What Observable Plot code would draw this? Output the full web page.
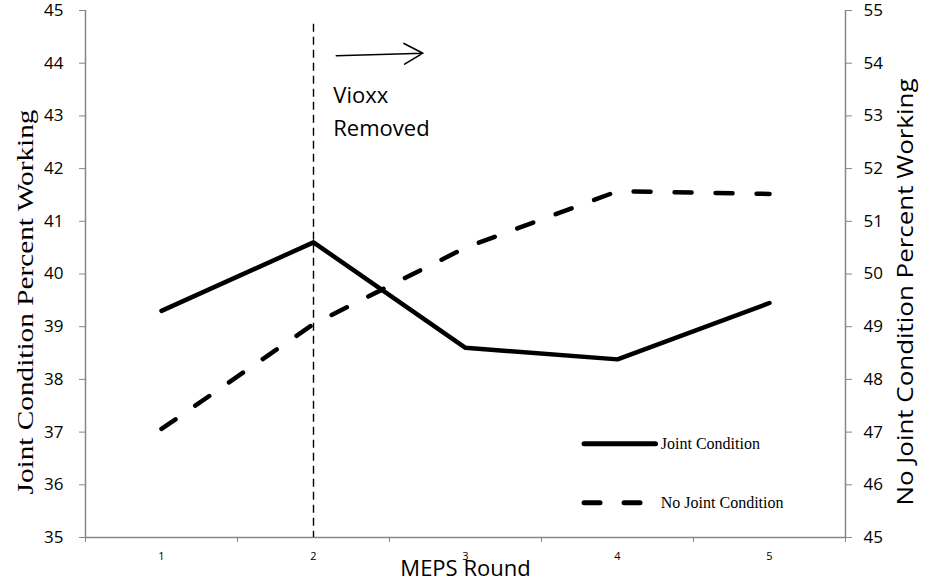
<!DOCTYPE html>
<html>
<head>
<meta charset="utf-8">
<script src="https://cdn.jsdelivr.net/npm/d3@7"></script>
<script src="https://cdn.jsdelivr.net/npm/@observablehq/plot@0.6"></script>
<style>
  html, body { margin: 0; padding: 0; background: #fff; }
  #chart { width: 926px; height: 584px; }
</style>
</head>
<body>
<div id="chart"></div>
<script>
// ---- data ----
const rounds = [1, 2, 3, 4, 5];
const jointCondition = [39.3, 40.6, 38.6, 38.38, 39.45];      // left axis
const noJointCondition = [47.06, 49.05, 50.5, 51.57, 51.52];  // right axis
const leftTicks = [35, 36, 37, 38, 39, 40, 41, 42, 43, 44, 45];
const rightTicks = [45, 46, 47, 48, 49, 50, 51, 52, 53, 54, 55];
const xTickLabels = ["1", "2", "3", "4", "5"];
const vioxxRound = 2;
const seriesNames = ["Joint Condition", "No Joint Condition"];
const leftTitle = "Joint Condition Percent Working";
const rightTitle = "No Joint Condition Percent Working";
const xTitle = "MEPS Round";
const annotation = "Vioxx\nRemoved";

// ---- derived ----
const offset = rightTicks[0] - leftTicks[0]; // right axis = left axis + 10
const joint = rounds.map((r, i) => ({round: r, v: jointCondition[i]}));
const noJoint = rounds.map((r, i) => ({round: r, v: noJointCondition[i] - offset}));
const bounds = d3.range(rounds[0] - 0.5, rounds[rounds.length - 1] + 1, 1);
const gray = "#868686";
const sans = "'Open Sans', sans-serif";
const serif = "'Liberation Serif', 'Times New Roman', serif";
const dashMain = "17,24";

// legend layout (in data units of the shared scales)
const legendX1 = 3.78, legendX2 = 4.25, legendTextX = 4.285;
const legendSolid = [{name: seriesNames[0], y: 36.78}];
const legendDashed = [{name: seriesNames[1], y: 35.66}];

const plot = Plot.plot({
  width: 926,
  height: 584,
  marginTop: 10,
  marginBottom: 47,
  marginLeft: 85,
  marginRight: 81,
  style: {fontFamily: sans, background: "#fff", overflow: "visible"},
  x: {type: "linear", domain: [bounds[0], bounds[bounds.length - 1]]},
  y: {type: "linear", domain: [leftTicks[0], leftTicks[leftTicks.length - 1]]},
  marks: [
    // axis lines
    Plot.ruleX([bounds[0], bounds[bounds.length - 1]], {stroke: gray, strokeWidth: 1.5}),
    Plot.ruleY([leftTicks[0]], {stroke: gray, strokeWidth: 1.5}),
    // left axis
    Plot.axisY({anchor: "left", ticks: leftTicks, tickSize: 6, tickPadding: 16,
      stroke: gray, fill: "black", fontSize: 17, label: null}),
    // right axis
    Plot.axisY({anchor: "right", ticks: leftTicks, tickSize: 6, tickPadding: 12,
      tickFormat: d => String(d + offset), stroke: gray, fill: "black", fontSize: 17, label: null}),
    // x axis: tick marks at category boundaries, labels at category centres
    Plot.axisX({ticks: bounds, tickSize: 5, tickFormat: () => "", stroke: gray, label: null}),
    Plot.axisX({ticks: rounds, tickSize: 0, tickPadding: 15, tickFormat: (d, i) => xTickLabels[i],
      fill: "black", fontSize: 11, fontFamily: sans, label: null}),
    // Vioxx line
    Plot.ruleX([vioxxRound], {y1: 44.74, y2: leftTicks[0], stroke: "black", strokeWidth: 1.4, strokeDasharray: "8,5"}),
    // series
    Plot.line(noJoint, {x: "round", y: "v", stroke: "black", strokeWidth: 4.5,
      strokeDasharray: dashMain, strokeLinecap: "round"}),
    Plot.line(joint, {x: "round", y: "v", stroke: "black", strokeWidth: 4.5, strokeLinecap: "round"}),
    // annotation
    Plot.arrow([0], {x1: vioxxRound + 0.15, y1: 44.14, x2: vioxxRound + 0.72, y2: 44.19,
      stroke: "black", strokeWidth: 1.6, headLength: 20, headAngle: 58, bend: 0}),
    Plot.text([annotation], {x: vioxxRound + 0.13, y: 43.14, textAnchor: "start", lineAnchor: "middle",
      lineHeight: 1.5, fontSize: 22, fontFamily: sans, fill: "black"}),
    // legend
    Plot.link(legendSolid, {x1: legendX1, x2: legendX2, y1: "y", y2: "y", stroke: "black", strokeWidth: 5,
      strokeLinecap: "round"}),
    Plot.link(legendDashed, {x1: legendX1, x2: legendX2, y1: "y", y2: "y", stroke: "black", strokeWidth: 5,
      strokeDasharray: "16,24", strokeLinecap: "round"}),
    Plot.text([...legendSolid, ...legendDashed], {x: legendTextX, y: "y", text: "name", textAnchor: "start",
      fontSize: 16, fontFamily: serif, fill: "black"}),
    // titles
    Plot.text([leftTitle], {frameAnchor: "left", textAnchor: "middle", rotate: -90, dx: -60, dy: 28,
      fontSize: 24, fontFamily: serif, fill: "black"}),
    Plot.text([rightTitle], {frameAnchor: "right", textAnchor: "middle", rotate: -90, dx: 61, dy: 18,
      fontSize: 21, fontFamily: sans, fill: "black"}),
    Plot.text([xTitle], {frameAnchor: "bottom", dy: 38, fontSize: 22, fontFamily: sans, fill: "black"})
  ]
});
// stretch the rotated axis titles along their length, as in the reference
const titleLengths = new Map([[leftTitle, 385], [rightTitle, 427]]);
d3.select(plot).selectAll("text").each(function () {
  const len = titleLengths.get(this.textContent);
  if (len) d3.select(this).attr("textLength", len).attr("lengthAdjust", "spacingAndGlyphs");
});
document.getElementById("chart").appendChild(plot);
</script>
</body>
</html>
